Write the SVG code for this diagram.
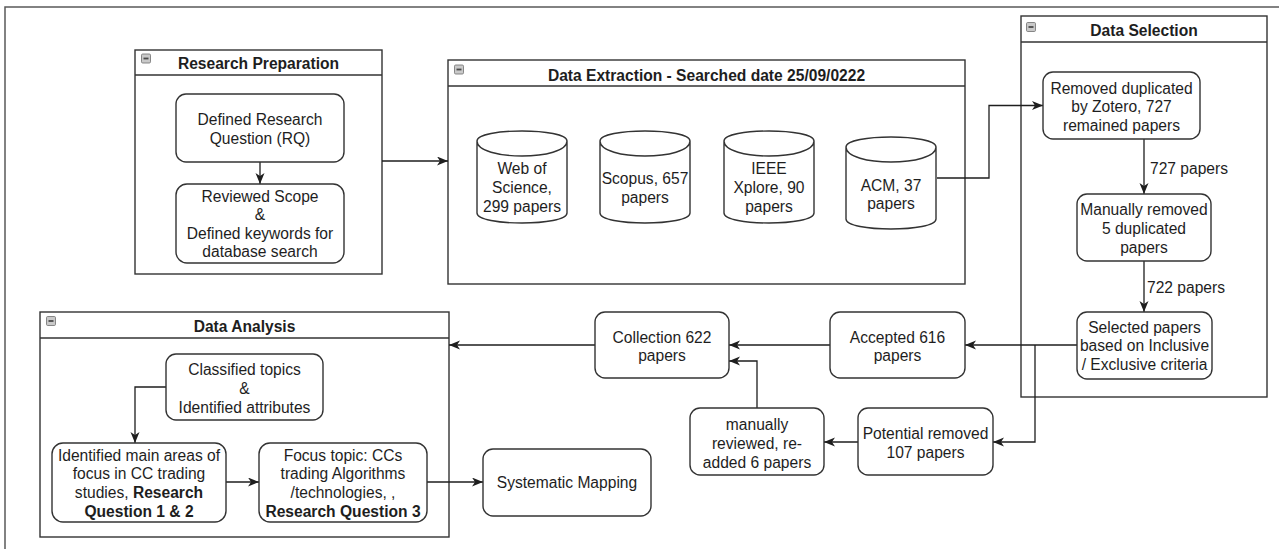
<svg xmlns="http://www.w3.org/2000/svg" width="1279" height="549" viewBox="0 0 1279 549">
  <style>
    text { font-family: "Liberation Sans", Arial, sans-serif; font-size: 15.6px; fill: #1e1e1e; text-anchor: middle; }
    .title { font-weight: bold; }
    .b { font-weight: bold; }
    .lbl { text-anchor: start; }
    .frame { fill: none; stroke: #5a5a5a; stroke-width: 1.5; }
    .box { fill: #ffffff; stroke: #333333; stroke-width: 1.4; }
    .hdr { fill: none; stroke: #333333; stroke-width: 1.4; }
    .node { fill: #ffffff; stroke: #333333; stroke-width: 1.4; }
    .icon { fill: #c9c9c9; stroke: #7a7a7a; stroke-width: 0.9; }
    .icon-bar { stroke: #4a4a4a; stroke-width: 1.8; }
    .edge { fill: none; stroke: #1e1e1e; stroke-width: 1.3; marker-end: url(#arrow); }
  </style>
  <defs>
    <marker id="arrow" markerUnits="userSpaceOnUse" markerWidth="12" markerHeight="10" refX="11" refY="4.5" orient="auto">
      <path d="M0,0 L11,4.5 L0,9 L3,4.5 Z" fill="#1e1e1e"/>
    </marker>
    <path id="cyl" d="M0,10 C0,-3.33 90,-3.33 90,10 L90,82 C90,95.33 0,95.33 0,82 Z M0,10 C0,30 90,30 90,10"/>
  </defs>

  <rect width="1279" height="549" fill="#ffffff"/>
  <!-- page frame -->
  <path class="frame" d="M5,549 V7 H1279"/>

  <!-- swimlane containers -->
  <g id="research-preparation">
    <rect class="box" x="135" y="50" width="247" height="224"/>
    <line class="hdr" x1="135" y1="75" x2="382" y2="75"/>
    <rect class="icon" x="141.5" y="54" width="9" height="9" rx="1.2"/>
    <line class="icon-bar" x1="143.5" y1="58.5" x2="148.5" y2="58.5"/>
    <text class="title" x="258.5" y="69">Research Preparation</text>
  </g>

  <g id="data-extraction">
    <rect class="box" x="448" y="60" width="517" height="224"/>
    <line class="hdr" x1="448" y1="86" x2="965" y2="86"/>
    <rect class="icon" x="454.5" y="65" width="9" height="9" rx="1.2"/>
    <line class="icon-bar" x1="456.5" y1="69.5" x2="461.5" y2="69.5"/>
    <text class="title" x="706.5" y="80.5">Data Extraction - Searched date 25/09/0222</text>
  </g>

  <g id="data-selection">
    <rect class="box" x="1021" y="16" width="246" height="381"/>
    <line class="hdr" x1="1021" y1="42" x2="1267" y2="42"/>
    <rect class="icon" x="1026.5" y="22.5" width="9" height="9" rx="1.2"/>
    <line class="icon-bar" x1="1028.5" y1="27" x2="1033.5" y2="27"/>
    <text class="title" x="1144" y="35.5">Data Selection</text>
  </g>

  <g id="data-analysis">
    <rect class="box" x="40" y="312" width="409" height="225"/>
    <line class="hdr" x1="40" y1="338" x2="449" y2="338"/>
    <rect class="icon" x="46.5" y="316.5" width="9" height="9" rx="1.2"/>
    <line class="icon-bar" x1="48.5" y1="321" x2="53.5" y2="321"/>
    <text class="title" x="244.5" y="331.5">Data Analysis</text>
  </g>

  <!-- connectors -->
  <g id="connectors">
    <path class="edge" d="M382,161 H448"/>
    <path class="edge" d="M260,162 V184"/>
    <path class="edge" d="M937,178 H989 V105.5 H1043"/>
    <path class="edge" d="M1144,139 V194"/>
    <path class="edge" d="M1144,261 V312"/>
    <path class="edge" d="M1077,345 H965"/>
    <path class="edge" d="M1035,345 V442 H993"/>
    <path class="edge" d="M830,345 H729"/>
    <path class="edge" d="M595,345 H449"/>
    <path class="edge" d="M858,442 H824"/>
    <path class="edge" d="M757,408 V361 H729"/>
    <path class="edge" d="M166,387 H135 V443"/>
    <path class="edge" d="M226,482 H259"/>
    <path class="edge" d="M427,482 H483"/>
    <text class="lbl" x="1150" y="173.5">727 papers</text>
    <text class="lbl" x="1147" y="292.5">722 papers</text>
  </g>

  <!-- Research Preparation nodes -->
  <g id="defined-rq">
    <rect class="node" x="176" y="94" width="168" height="68" rx="10"/>
    <text x="260" y="124.5">Defined Research</text>
    <text x="260" y="143.5">Question (RQ)</text>
  </g>
  <g id="reviewed-scope">
    <rect class="node" x="176" y="184" width="168" height="79" rx="11"/>
    <text x="260" y="201.5">Reviewed Scope</text>
    <text x="260" y="220">&amp;</text>
    <text x="260" y="238.7">Defined keywords for</text>
    <text x="260" y="257.4">database search</text>
  </g>

  <!-- Data Extraction databases -->
  <g id="web-of-science">
    <use href="#cyl" transform="translate(477,131)" class="node"/>
    <text x="522" y="173.5">Web of</text>
    <text x="522" y="192.5">Science,</text>
    <text x="522" y="211.5">299 papers</text>
  </g>
  <g id="scopus">
    <use href="#cyl" transform="translate(600,131)" class="node"/>
    <text x="645" y="183.5">Scopus, 657</text>
    <text x="645" y="202.5">papers</text>
  </g>
  <g id="ieee-xplore">
    <use href="#cyl" transform="translate(724,131)" class="node"/>
    <text x="769" y="173.5">IEEE</text>
    <text x="769" y="192.5">Xplore, 90</text>
    <text x="769" y="211.5">papers</text>
  </g>
  <g id="acm">
    <use href="#cyl" transform="translate(846,137)" class="node"/>
    <text x="891" y="190.5">ACM, 37</text>
    <text x="891" y="209">papers</text>
  </g>

  <!-- Data Selection nodes -->
  <g id="removed-zotero">
    <rect class="node" x="1043" y="72" width="157" height="67" rx="10"/>
    <text x="1121.5" y="93.5">Removed duplicated</text>
    <text x="1121.5" y="112">by Zotero, 727</text>
    <text x="1121.5" y="130.5">remained papers</text>
  </g>
  <g id="manually-removed">
    <rect class="node" x="1077" y="194" width="134" height="67" rx="10"/>
    <text x="1144" y="214.5">Manually removed</text>
    <text x="1144" y="233.5">5 duplicated</text>
    <text x="1144" y="252.5">papers</text>
  </g>
  <g id="selected-papers">
    <rect class="node" x="1077" y="312" width="135" height="67" rx="10"/>
    <text x="1144.5" y="332.5">Selected papers</text>
    <text x="1144.5" y="351">based on Inclusive</text>
    <text x="1144.5" y="369.5">/ Exclusive criteria</text>
  </g>

  <!-- screening outcome nodes -->
  <g id="accepted">
    <rect class="node" x="830" y="312" width="135" height="66" rx="10"/>
    <text x="897.5" y="342.5">Accepted 616</text>
    <text x="897.5" y="361">papers</text>
  </g>
  <g id="collection">
    <rect class="node" x="595" y="312" width="134" height="66" rx="10"/>
    <text x="662" y="342.5">Collection 622</text>
    <text x="662" y="361">papers</text>
  </g>
  <g id="potential-removed">
    <rect class="node" x="858" y="408" width="135" height="67" rx="10"/>
    <text x="925.5" y="438.5">Potential removed</text>
    <text x="925.5" y="457.5">107 papers</text>
  </g>
  <g id="manually-reviewed">
    <rect class="node" x="690" y="408" width="134" height="67" rx="10"/>
    <text x="757" y="429.5">manually</text>
    <text x="757" y="448.5">reviewed, re-</text>
    <text x="757" y="467.5">added 6 papers</text>
  </g>

  <!-- Data Analysis nodes -->
  <g id="classified-topics">
    <rect class="node" x="166" y="354" width="157" height="66" rx="10"/>
    <text x="244.5" y="374.5">Classified topics</text>
    <text x="244.5" y="393.5">&amp;</text>
    <text x="244.5" y="412.5">Identified attributes</text>
  </g>
  <g id="main-areas">
    <rect class="node" x="52" y="443" width="174" height="79" rx="11"/>
    <text x="139" y="460.5">Identified main areas of</text>
    <text x="139" y="479.2">focus in CC trading</text>
    <text x="139" y="497.9">studies, <tspan class="b">Research</tspan></text>
    <text x="139" y="516.6" class="b">Question 1 &amp; 2</text>
  </g>
  <g id="focus-topic">
    <rect class="node" x="259" y="443" width="168" height="79" rx="11"/>
    <text x="343" y="460.5">Focus topic: CCs</text>
    <text x="343" y="479.2">trading Algorithms</text>
    <text x="343" y="497.9">/technologies, ,</text>
    <text x="343" y="516.6" class="b">Research Question 3</text>
  </g>
  <g id="systematic-mapping">
    <rect class="node" x="483" y="449" width="168" height="67" rx="10"/>
    <text x="567" y="488">Systematic Mapping</text>
  </g>
</svg>
